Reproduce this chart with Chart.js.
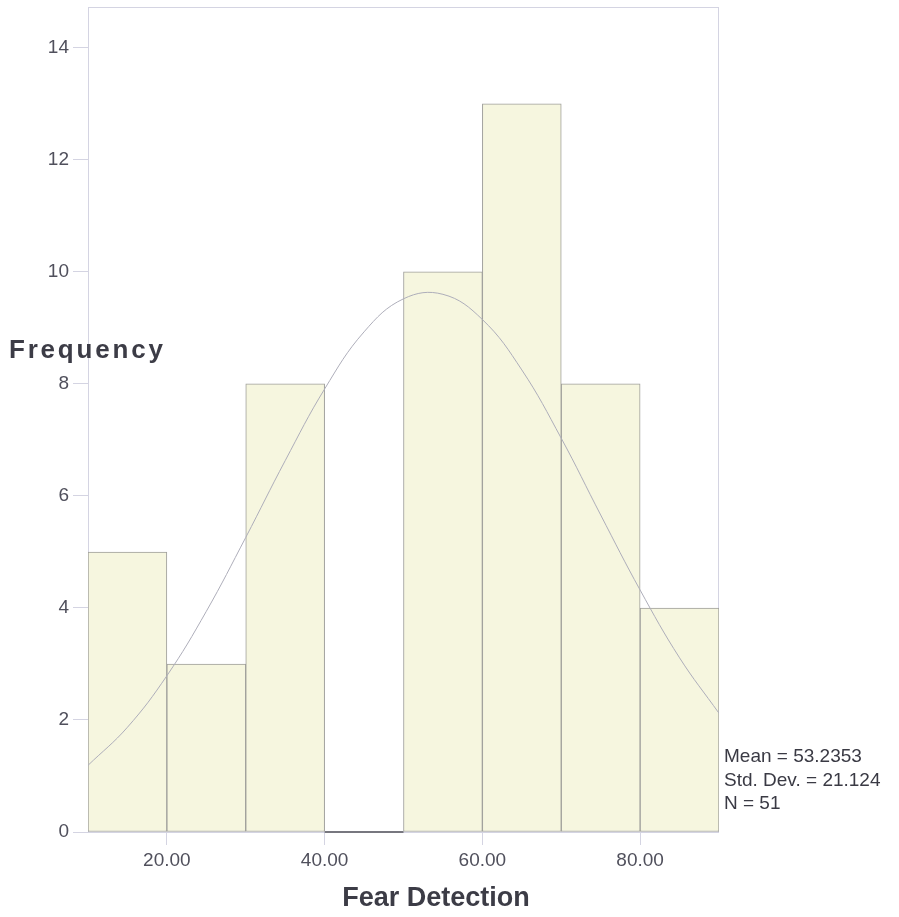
<!DOCTYPE html>
<html>
<head>
<meta charset="utf-8">
<script src="https://cdn.jsdelivr.net/npm/chart.js@4.4.0/dist/chart.umd.min.js"></script>
<style>
  html, body { margin: 0; padding: 0; background: #ffffff; }
  #wrap { width: 899px; height: 917px; position: relative; }
</style>
</head>
<body>
<div id="wrap"><canvas id="histo"></canvas></div>
<script>
// histogram bins (lower edge) and counts
var binStarts = [10, 20, 30, 40, 50, 60, 70, 80];
var binWidth = 10;
var counts = [5, 3, 8, 0, 10, 13, 8, 4];

// normal curve
var curveX = [10, 15, 20, 25, 30, 35, 40, 45, 50, 55, 60, 65, 70, 75, 80, 85, 90];
var curveY = [1.19, 1.87, 2.79, 3.94, 5.26, 6.63, 7.91, 8.93, 9.52, 9.6, 9.15, 8.25, 7.03, 5.66, 4.32, 3.11, 2.12];

var xTicks = [20, 40, 60, 80];
var yTicks = [0, 2, 4, 6, 8, 10, 12, 14];
var statsLines = ["Mean = 53.2353", "Std. Dev. = 21.124", "N = 51"];

var tickColor = "#50505c";
var frameColor = "#d4d4e2";
var fontFamily = "Arial, 'Liberation Sans', sans-serif";

var barPoints = binStarts.map(function (s, i) {
  return { x: s + binWidth / 2, y: counts[i] };
});
var curvePoints = curveX.map(function (x, i) {
  return { x: x, y: curveY[i] };
});

// frame, empty-bin baseline and free text
var decorations = {
  id: "decorations",
  beforeDatasetsDraw: function (chart) {
    var ctx = chart.ctx, a = chart.chartArea;
    ctx.save();
    ctx.strokeStyle = frameColor;
    ctx.lineWidth = 1;
    ctx.strokeRect(a.left + 0.5, a.top + 0.5, a.right - a.left - 1, a.bottom - a.top);
    ctx.restore();
  },
  afterDatasetsDraw: function (chart) {
    var ctx = chart.ctx;
    var xs = chart.scales.x, ys = chart.scales.y;
    ctx.save();
    ctx.strokeStyle = "#77777f";
    ctx.lineWidth = 2;
    binStarts.forEach(function (s, i) {
      if (counts[i] === 0) {
        ctx.beginPath();
        ctx.moveTo(xs.getPixelForValue(s), ys.getPixelForValue(0));
        ctx.lineTo(xs.getPixelForValue(s + binWidth), ys.getPixelForValue(0));
        ctx.stroke();
      }
    });
    ctx.restore();
  },
  afterDraw: function (chart) {
    var ctx = chart.ctx, a = chart.chartArea;
    ctx.save();
    ctx.fillStyle = "#3c3c46";
    ctx.textBaseline = "middle";
    ctx.textAlign = "left";
    ctx.font = "bold 26px " + fontFamily;
    ctx.letterSpacing = "2.8px";
    ctx.fillText("Frequency", 9, 351);
    ctx.letterSpacing = "0px";
    ctx.textAlign = "center";
    ctx.font = "bold 27px " + fontFamily;
    ctx.fillText("Fear Detection", 436, 899);

    ctx.font = "19px " + fontFamily;
    ctx.fillStyle = "#3a3a44";
    ctx.textAlign = "left";
    statsLines.forEach(function (t, i) {
      ctx.fillText(t, a.right + 5, 757 + i * 23.5);
    });
    ctx.restore();
  }
};

new Chart(document.getElementById("histo"), {
  data: {
    datasets: [
      {
        type: "line",
        data: curvePoints,
        borderColor: "#aeaeba",
        borderWidth: 1,
        pointRadius: 0,
        tension: 0.4,
        fill: false,
        order: 0
      },
      {
        type: "bar",
        data: barPoints,
        backgroundColor: "#f6f6df",
        borderColor: "#9e9e9a",
        borderWidth: 1,
        borderSkipped: false,
        barPercentage: 1,
        categoryPercentage: 1,
        order: 1
      }
    ]
  },
  options: {
    responsive: true,
    maintainAspectRatio: false,
    animation: false,
    layout: { padding: { left: 0, top: 7, right: 180, bottom: 0 } },
    plugins: { legend: { display: false }, tooltip: { enabled: false } },
    scales: {
      x: {
        type: "linear",
        min: 10,
        max: 90,
        offset: false,
        afterBuildTicks: function (scale) {
          scale.ticks = xTicks.map(function (v) { return { value: v }; });
        },
        afterFit: function (scale) {
          scale.height = 85;
          scale.paddingLeft = 0;
          scale.paddingRight = 0;
        },
        ticks: {
          color: tickColor,
          font: { size: 19, family: fontFamily },
          padding: 4,
          maxRotation: 0,
          callback: function (v) { return v.toFixed(2); }
        },
        grid: {
          offset: false,
          drawOnChartArea: false,
          drawTicks: true,
          tickLength: 13,
          color: frameColor
        },
        border: { display: false }
      },
      y: {
        type: "linear",
        min: 0,
        max: 14.73,
        afterBuildTicks: function (scale) {
          scale.ticks = yTicks.map(function (v) { return { value: v }; });
        },
        afterFit: function (scale) {
          scale.width = 88;
          scale.paddingTop = 0;
          scale.paddingBottom = 0;
        },
        ticks: {
          color: tickColor,
          font: { size: 19, family: fontFamily },
          padding: 4
        },
        grid: {
          drawOnChartArea: false,
          drawTicks: true,
          tickLength: 15,
          color: frameColor
        },
        border: { display: false }
      }
    }
  },
  plugins: [decorations]
});
</script>
</body>
</html>
